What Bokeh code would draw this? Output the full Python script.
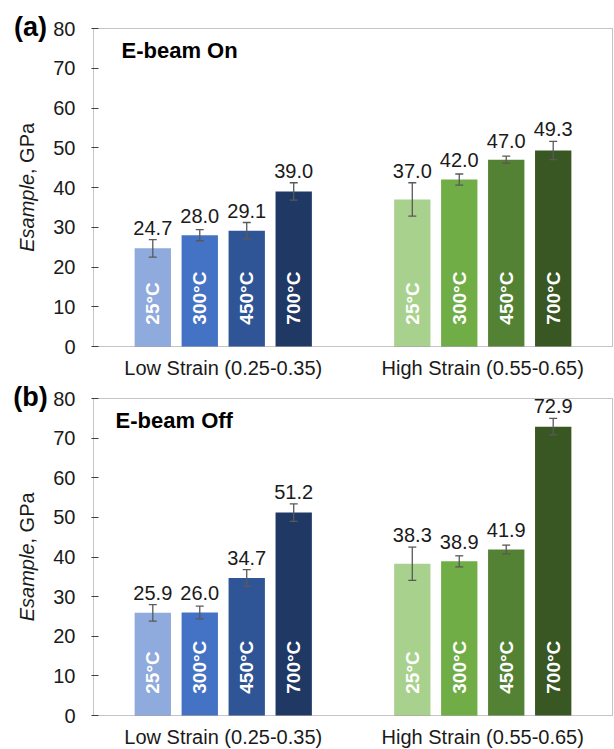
import math

from bokeh.core.properties import value
from bokeh.embed import file_html
from bokeh.layouts import column
from bokeh.models import (BoxAnnotation, ColumnDataSource, FixedTicker, Label, LinearAxis,
                          Range1d, TeeHead, Whisker)
from bokeh.plotting import figure
from bokeh.resources import INLINE

# ---- data -------------------------------------------------------------
strain_groups = ["Low Strain (0.25-0.35)", "High Strain (0.55-0.65)"]
temperatures = ["25°C", "300°C", "450°C", "700°C"]
y_ticks = [0, 10, 20, 30, 40, 50, 60, 70, 80]

# E-beam on
on_low = [24.7, 28.0, 29.1, 39.0]
on_low_err = [2.2, 1.4, 2.1, 2.2]
on_high = [37.0, 42.0, 47.0, 49.3]
on_high_err = [4.2, 1.4, 0.9, 2.3]

# E-beam off
off_low = [25.9, 26.0, 34.7, 51.2]
off_low_err = [2.1, 1.6, 2.1, 2.2]
off_high = [38.3, 38.9, 41.9, 72.9]
off_high_err = [4.2, 1.4, 1.1, 2.1]

blues = ["#8FAADC", "#4472C4", "#2F5597", "#203864"]
greens = ["#A9D18E", "#70AD47", "#548235", "#385723"]

# ---- styling / layout -------------------------------------------------
FONT = "Liberation Sans"
TEXT = "#1a1a1a"
FRAME = "#404040"
ERR = "#595959"
PITCH = 0.181      # distance between neighbouring bars (one strain group = 1 x unit)
BAR_W = 0.14
WIDTH = 614
AXIS_PX = 93       # horizontal position of the value axis
RIGHT_PX = 612     # right edge of the plot box
Y_MAX = 80


def make_panel(tag, title, title_x, low, low_err, high, high_err,
               height, top_px, box_h):
    """top_px: pixel row of the value 80; box_h: pixel height of the 0..80 box."""
    px_per_x = (RIGHT_PX - AXIS_PX) / 2.0
    px_per_y = box_h / Y_MAX

    xs, vals, errs, cols, temps = [], [], [], [], []
    for g, (v, e, pal) in enumerate([(low, low_err, blues), (high, high_err, greens)]):
        for j in range(len(temperatures)):
            xs.append(g + 0.5 + (j - 1.5) * PITCH)
            vals.append(v[j])
            errs.append(e[j])
            cols.append(pal[j])
            temps.append(temperatures[j])

    src = ColumnDataSource(dict(
        x=xs,
        top=vals,
        upper=[v + e for v, e in zip(vals, errs)],
        lower=[v - e for v, e in zip(vals, errs)],
        label_y=[max(v + 4.8, v + e + 3.0) for v, e in zip(vals, errs)],
        label=[f"{v:.1f}" for v in vals],
        color=cols,
        temp=temps,
        temp_y=[5.5] * len(vals),
    ))

    # The frame spans the whole canvas; both axes are pinned inside it so the
    # panel tag and the two-style y title can sit left of the value axis.
    x0 = -AXIS_PX / px_per_x
    x1 = 2 + (WIDTH - 1 - RIGHT_PX) / px_per_x
    y0 = -(height - top_px - box_h) / px_per_y
    y1 = Y_MAX + top_px / px_per_y
    p = figure(width=WIDTH, height=height,
               x_range=Range1d(x0, x1), y_range=Range1d(y0, y1),
               x_axis_location=None, y_axis_location=None,
               output_backend="svg", toolbar_location=None,
               min_border_left=0, min_border_right=1,
               min_border_top=0, min_border_bottom=0)
    p.outline_line_color = None
    p.xgrid.visible = False
    p.ygrid.visible = False
    p.background_fill_color = "white"
    p.border_fill_color = "white"

    # plot box
    p.add_layout(BoxAnnotation(left=0, right=2, bottom=0, top=Y_MAX,
                               fill_color=None, line_color=FRAME, line_width=1))

    p.vbar(x="x", top="top", bottom=0, width=BAR_W, source=src,
           fill_color="color", line_color=None)

    p.add_layout(Whisker(source=src, base="x", upper="upper", lower="lower",
                         line_color=ERR, line_width=1.3, level="overlay",
                         upper_head=TeeHead(size=8, line_color=ERR, line_width=1.3),
                         lower_head=TeeHead(size=8, line_color=ERR, line_width=1.3)))

    # value labels above each bar
    p.text(x="x", y="label_y", text="label", source=src,
           text_font=value(FONT), text_font_size="20px", text_color=TEXT,
           text_align="center", text_baseline="middle")

    # temperature labels written up the inside of each bar
    p.text(x="x", y="temp_y", text="temp", source=src, angle=math.pi / 2,
           text_font=value(FONT), text_font_size="19px", text_font_style="bold",
           text_color="white", text_align="left", text_baseline="middle")

    # value axis pinned at x = 0
    ya = LinearAxis(fixed_location=0, ticker=FixedTicker(ticks=y_ticks))
    ya.axis_line_color = None
    ya.major_tick_in = 5
    ya.major_tick_out = 2
    ya.major_tick_line_color = FRAME
    ya.minor_tick_line_color = None
    ya.major_label_standoff = 16
    ya.major_label_text_font = FONT
    ya.major_label_text_font_size = "20px"
    ya.major_label_text_color = TEXT
    p.add_layout(ya, "left")

    # category axis pinned at y = 0: one label per strain group
    xa = LinearAxis(fixed_location=0, ticker=FixedTicker(ticks=[0.5, 1.5]))
    xa.major_label_overrides = {0.5: strain_groups[0], 1.5: strain_groups[1]}
    xa.axis_line_color = None
    xa.major_tick_in = 0
    xa.major_tick_out = 0
    xa.major_tick_line_color = None
    xa.minor_tick_line_color = None
    xa.major_label_standoff = 10
    xa.major_label_text_font = FONT
    xa.major_label_text_font_size = "20px"
    xa.major_label_text_color = TEXT
    p.add_layout(xa, "below")

    # y title: italic symbol followed by upright unit, reading upwards
    title_x_pos = (26 - AXIS_PX) / px_per_x
    join_y = Y_MAX / 2 + 13.5 / px_per_y
    p.add_layout(Label(x=title_x_pos, y=join_y, text="Esample", angle=math.pi / 2,
                       text_font=FONT, text_font_size="20px", text_font_style="italic",
                       text_color=TEXT, text_align="right", text_baseline="middle"))
    p.add_layout(Label(x=title_x_pos, y=join_y, text=", GPa", angle=math.pi / 2,
                       text_font=FONT, text_font_size="20px",
                       text_color=TEXT, text_align="left", text_baseline="middle"))

    # panel tag and condition title
    p.add_layout(Label(x=(30 - AXIS_PX) / px_per_x, y=Y_MAX + 1.5 / px_per_y, text=tag,
                       text_font=FONT, text_font_size="27px", text_font_style="bold",
                       text_color="black", text_align="center", text_baseline="middle"))
    p.add_layout(Label(x=title_x, y=74.4, text=title, text_font=FONT,
                       text_font_size="22px", text_font_style="bold", text_color="black",
                       text_align="left", text_baseline="middle"))
    return p


pa = make_panel("(a)", "E-beam On", 0.108, on_low, on_low_err, on_high, on_high_err,
                height=383, top_px=28, box_h=318)
pb = make_panel("(b)", "E-beam Off", 0.085, off_low, off_low_err, off_high, off_high_err,
                height=366, top_px=15, box_h=317)

layout = column(pa, pb, spacing=0)

with open("out.html", "w") as f:
    f.write(file_html(layout, INLINE))
